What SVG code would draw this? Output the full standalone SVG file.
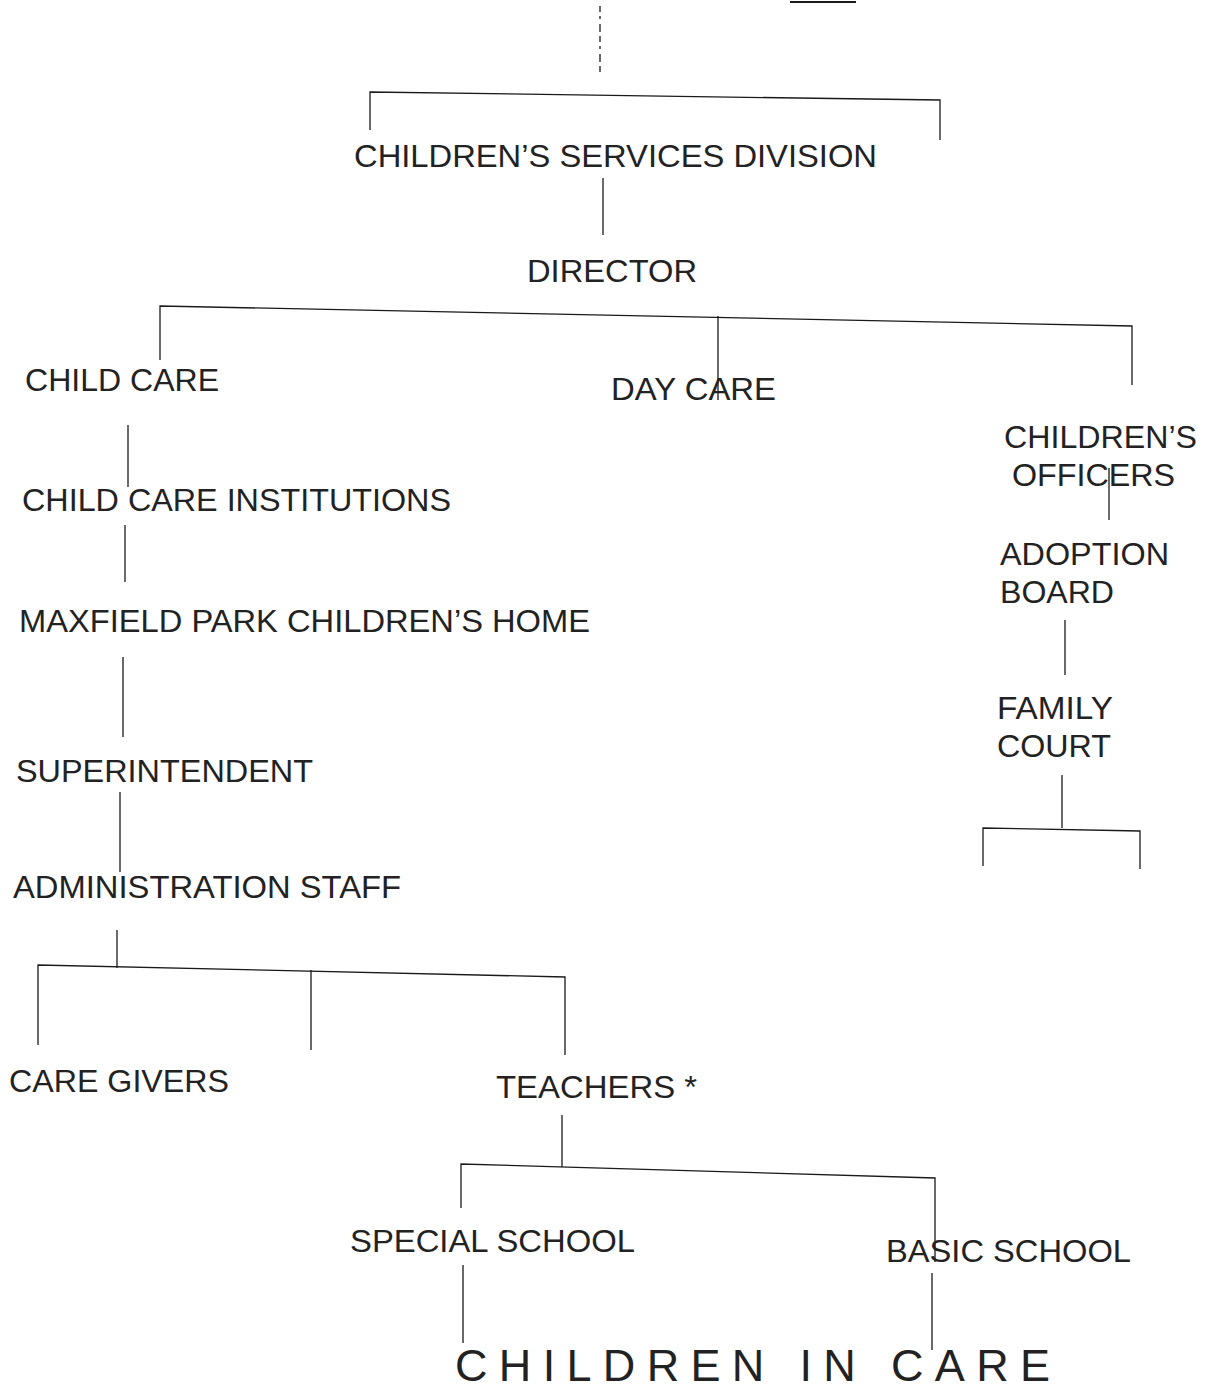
<svg xmlns="http://www.w3.org/2000/svg" width="1207" height="1389" viewBox="0 0 1207 1389">
<style>
text{font-family:"Liberation Sans",Arial,sans-serif;font-size:32px;fill:#222}
.big{font-size:45px}
#connectors line,#connectors polyline{stroke:#1a1a1a;stroke-width:1.3;fill:none}
</style>
<rect width="1207" height="1389" fill="#fff"/>
<g id="connectors">
<line x1="790" y1="2" x2="856" y2="2" style="stroke-width:2"/>
<line x1="600" y1="6" x2="600" y2="76" style="stroke-dasharray:6 4 3 5 8 4"/>
<polyline points="370,130 370,92 940,100 940,140"/>
<line x1="603" y1="178" x2="603" y2="235"/>
<polyline points="160,360 160,306 1132,326 1132,385"/>
<line x1="718" y1="316" x2="718" y2="400"/>
<line x1="128" y1="425" x2="128" y2="487"/>
<line x1="125" y1="525" x2="125" y2="582"/>
<line x1="123" y1="657" x2="123" y2="737"/>
<line x1="120" y1="792" x2="120" y2="872"/>
<line x1="117" y1="930" x2="117" y2="968"/>
<polyline points="38,1045 38,965 565,977 565,1055"/>
<line x1="311" y1="970" x2="311" y2="1050"/>
<line x1="562" y1="1115" x2="562" y2="1167"/>
<polyline points="461,1208 461,1164 935,1178 935,1262"/>
<line x1="463" y1="1265" x2="463" y2="1343"/>
<line x1="932" y1="1273" x2="932" y2="1350"/>
<line x1="1109" y1="468" x2="1109" y2="520"/>
<line x1="1065" y1="620" x2="1065" y2="675"/>
<line x1="1062" y1="775" x2="1062" y2="828"/>
<polyline points="983,866 983,828 1140,831 1140,869"/>
</g>
<g id="csd"><text x="354" y="167" textLength="523" lengthAdjust="spacingAndGlyphs">CHILDREN’S SERVICES DIVISION</text></g>
<g id="director"><text x="527" y="282" textLength="170" lengthAdjust="spacingAndGlyphs">DIRECTOR</text></g>
<g id="child-care"><text x="25" y="391" textLength="194" lengthAdjust="spacingAndGlyphs">CHILD CARE</text></g>
<g id="day-care"><text x="611" y="400" textLength="165" lengthAdjust="spacingAndGlyphs">DAY CARE</text></g>
<g id="childrens-officers"><text x="1004" y="448" textLength="193" lengthAdjust="spacingAndGlyphs">CHILDREN’S</text><text x="1012" y="486" textLength="163" lengthAdjust="spacingAndGlyphs">OFFICERS</text></g>
<g id="adoption-board"><text x="1000" y="565" textLength="169" lengthAdjust="spacingAndGlyphs">ADOPTION</text><text x="1000" y="603" textLength="114" lengthAdjust="spacingAndGlyphs">BOARD</text></g>
<g id="family-court"><text x="997" y="719" textLength="116" lengthAdjust="spacingAndGlyphs">FAMILY</text><text x="997" y="757" textLength="114" lengthAdjust="spacingAndGlyphs">COURT</text></g>
<g id="institutions"><text x="22" y="511" textLength="429" lengthAdjust="spacingAndGlyphs">CHILD CARE INSTITUTIONS</text></g>
<g id="maxfield"><text x="19" y="632" textLength="571" lengthAdjust="spacingAndGlyphs">MAXFIELD PARK CHILDREN’S HOME</text></g>
<g id="superintendent"><text x="16" y="782" textLength="297" lengthAdjust="spacingAndGlyphs">SUPERINTENDENT</text></g>
<g id="admin"><text x="13" y="898" textLength="388" lengthAdjust="spacingAndGlyphs">ADMINISTRATION STAFF</text></g>
<g id="care-givers"><text x="9" y="1092" textLength="220" lengthAdjust="spacingAndGlyphs">CARE GIVERS</text></g>
<g id="teachers"><text x="496" y="1098" textLength="201" lengthAdjust="spacingAndGlyphs">TEACHERS *</text></g>
<g id="special-school"><text x="350" y="1252" textLength="285" lengthAdjust="spacingAndGlyphs">SPECIAL SCHOOL</text></g>
<g id="basic-school"><text x="886" y="1262" textLength="245" lengthAdjust="spacingAndGlyphs">BASIC SCHOOL</text></g>
<g id="children-in-care"><text class="big" x="455" y="1381" textLength="595" lengthAdjust="spacing">CHILDREN IN CARE</text></g>
</svg>
